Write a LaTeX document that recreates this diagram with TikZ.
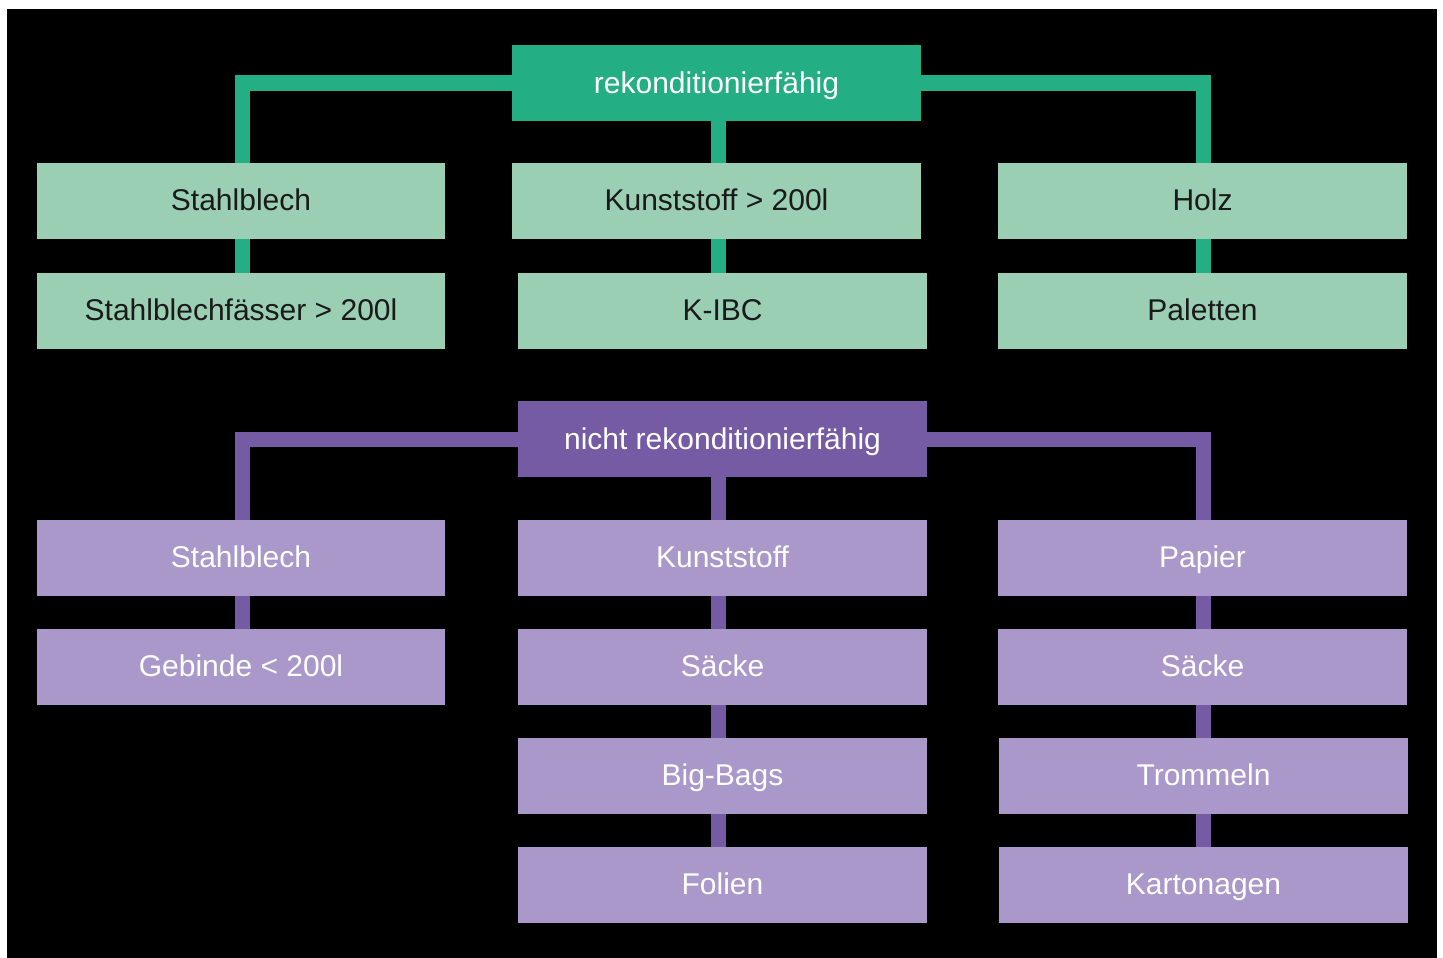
\documentclass[tikz,border=0pt]{standalone}
\usepackage{fontspec}
\setmainfont{Liberation Sans}
\definecolor{gdark}{HTML}{23AE84}
\definecolor{glight}{HTML}{9ACFB4}
\definecolor{pdark}{HTML}{755BA3}
\definecolor{plight}{HTML}{AA98CA}
\definecolor{txtdark}{HTML}{1A1A1A}
\begin{document}
\begin{tikzpicture}[x=1pt,y=-1pt,
  box/.style={rectangle,inner sep=0pt,outer sep=0pt,minimum width=409pt,minimum height=76pt,text height=26pt,text depth=6pt,font=\fontsize{30}{36}\selectfont},
  ghead/.style={box,fill=gdark,text=white},
  gbox/.style={box,fill=glight,text=txtdark},
  phead/.style={box,fill=pdark,text=white},
  pbox/.style={box,fill=plight,text=white},
  gline/.style={draw=gdark,line width=15pt,line join=miter},
  pline/.style={draw=pdark,line width=15pt,line join=miter}]
\useasboundingbox (0,0) rectangle (1443,958);
\fill[white] (0,0) rectangle (1443,958);
\fill[black] (7,9) rectangle (1437,958);
\coordinate (cL) at (242,0);
\coordinate (cM) at (718,0);
\coordinate (cR) at (1203,0);
% top tree
\node[ghead] (top) at (716.5,83) {rekonditionierfähig};
\node[gbox,minimum width=408pt] (g1) at (241,200.5) {Stahlblech};
\node[gbox] (g2) at (716.5,200.5) {Kunststoff > 200l};
\node[gbox] (g3) at (1202.5,200.5) {Holz};
\node[gbox,minimum width=408pt] (g4) at (241,310.5) {Stahlblechfässer > 200l};
\node[gbox] (g5) at (722.5,310.5) {K-IBC};
\node[gbox] (g6) at (1202.5,310.5) {Paletten};
\draw[gline] (top.west) -| (g1.north -| cL);
\draw[gline] (top.east) -| (g3.north -| cR);
\draw[gline] (top.south -| cM) -- (g2.north -| cM);
\draw[gline] (g1.south -| cL) -- (g4.north -| cL);
\draw[gline] (g2.south -| cM) -- (g5.north -| cM);
\draw[gline] (g3.south -| cR) -- (g6.north -| cR);
% bottom tree
\node[phead] (bot) at (722.5,439) {nicht rekonditionierfähig};
\node[pbox,minimum width=408pt] (p1) at (241,557.5) {Stahlblech};
\node[pbox] (p2) at (722.5,557.5) {Kunststoff};
\node[pbox] (p3) at (1202.5,557.5) {Papier};
\node[pbox,minimum width=408pt] (p4) at (241,666.5) {Gebinde < 200l};
\node[pbox] (p5) at (722.5,666.5) {Säcke};
\node[pbox] (p6) at (1202.5,666.5) {Säcke};
\node[pbox] (p7) at (722.5,775.5) {Big-Bags};
\node[pbox] (p8) at (1203.5,775.5) {Trommeln};
\node[pbox] (p9) at (722.5,884.5) {Folien};
\node[pbox] (p10) at (1203.5,884.5) {Kartonagen};
\draw[pline] (bot.west) -| (p1.north -| cL);
\draw[pline] (bot.east) -| (p3.north -| cR);
\draw[pline] (bot.south -| cM) -- (p2.north -| cM);
\draw[pline] (p1.south -| cL) -- (p4.north -| cL);
\draw[pline] (p2.south -| cM) -- (p5.north -| cM);
\draw[pline] (p5.south -| cM) -- (p7.north -| cM);
\draw[pline] (p7.south -| cM) -- (p9.north -| cM);
\draw[pline] (p3.south -| cR) -- (p6.north -| cR);
\draw[pline] (p6.south -| cR) -- (p8.north -| cR);
\draw[pline] (p8.south -| cR) -- (p10.north -| cR);
\end{tikzpicture}
\end{document}
